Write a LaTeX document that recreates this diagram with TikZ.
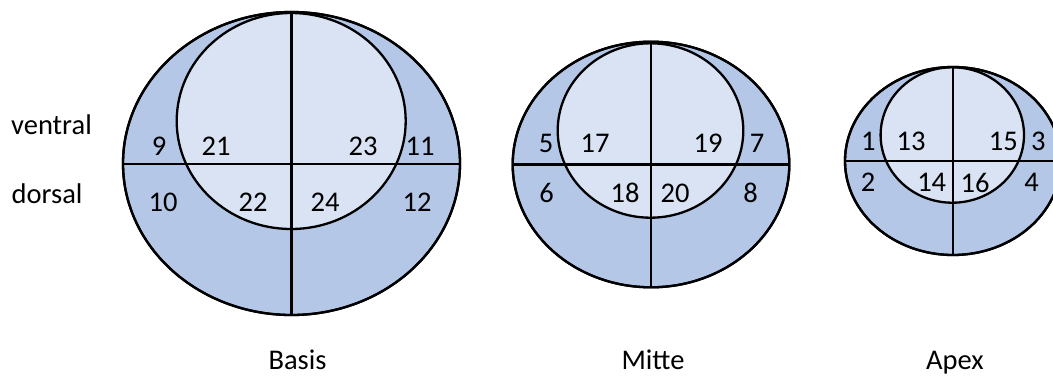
\documentclass[tikz,border=0pt]{standalone}
\usepackage{fontspec}
\setmainfont{Carlito}
\definecolor{outerblue}{HTML}{B4C7E7}
\definecolor{innerblue}{HTML}{DAE3F3}
\tikzset{
  outerring/.style={draw=black, line width=2.3pt, fill=outerblue},
  innerring/.style={draw=black, line width=2.3pt, fill=innerblue},
  divider/.style={draw=black, line width=2.3pt},
  rim/.style={draw=black, line width=2.3pt},
  num/.style={inner sep=0pt, anchor=center, font=\fontsize{28.5}{34}\selectfont},
  word/.style={inner sep=0pt, anchor=base, font=\fontsize{28.5}{34}\selectfont},
}
\begin{document}
\begin{tikzpicture}[x=1pt,y=-1pt]
\clip (0,0) rectangle (1053,376);
\fill[white] (0,0) rectangle (1053,376);

% ---------- Basis ----------
\path[outerring] (291.5,163.5) ellipse [x radius=168.5pt, y radius=151.5pt];
\path[innerring] (291.2,121) ellipse [x radius=114.5pt, y radius=108pt];
\coordinate (bW) at (123,164);
\coordinate (bE) at (460,164);
\coordinate (bN) at (291.6,12);
\coordinate (bS) at (291.6,315);
\draw[divider] (bW) -- (bE);
\draw[divider] (bN) -- (bS);
\path[rim] (291.5,163.5) ellipse [x radius=168.5pt, y radius=151.5pt];
\node[num] (n9)  at (159,146) {9};
\node[num] (n21) at (216,146) {21};
\node[num] (n23) at (363,146) {23};
\node[num] (n11) at (420,146) {11};
\node[num] (n10) at (163,202) {10};
\node[num] (n22) at (253,202) {22};
\node[num] (n24) at (325,202) {24};
\node[num] (n12) at (417,202) {12};

% ---------- Mitte ----------
\path[outerring] (651,164.5) ellipse [x radius=138.3pt, y radius=122.8pt];
\path[innerring] (650.5,130.5) ellipse [x radius=92.8pt, y radius=87.2pt];
\coordinate (mW) at (512.7,164.4);
\coordinate (mE) at (789.3,164.4);
\coordinate (mN) at (650.8,41.7);
\coordinate (mS) at (650.8,287.3);
\draw[divider] (mW) -- (mE);
\draw[divider] (mN) -- (mS);
\path[rim] (651,164.5) ellipse [x radius=138.3pt, y radius=122.8pt];
\node[num] (n5)  at (546,143.3) {5};
\node[num] (n17) at (595,143.3) {17};
\node[num] (n19) at (708,143.3) {19};
\node[num] (n7)  at (757,143.3) {7};
\node[num] (n6)  at (546.7,193.3) {6};
\node[num] (n18) at (625,193.3) {18};
\node[num] (n20) at (675,193.3) {20};
\node[num] (n8)  at (750.7,193.3) {8};

% ---------- Apex ----------
\path[outerring] (953,161) ellipse [x radius=108pt, y radius=94pt];
\path[innerring] (952.3,135) ellipse [x radius=71.7pt, y radius=67.7pt];
\coordinate (aW) at (845,161);
\coordinate (aE) at (1061,161);
\coordinate (aN) at (953.3,67);
\coordinate (aS) at (953.3,255);
\draw[divider] (aW) -- (aE);
\draw[divider] (aN) -- (aS);
\path[rim] (953,161) ellipse [x radius=108pt, y radius=94pt];
\node[num] (n1)  at (868.3,141.7) {1};
\node[num] (n13) at (911,141.7) {13};
\node[num] (n15) at (1003.3,141.7) {15};
\node[num] (n3)  at (1038.3,141.7) {3};
\node[num] (n2)  at (868,182.7) {2};
\node[num] (n14) at (931.7,182.7) {14};
\node[num] (n16) at (975,182.7) {16};
\node[num] (n4)  at (1031.7,182.7) {4};

% ---------- labels ----------
\node[word, anchor=base west] (ventral) at (11,134.3) {ventral};
\node[word, anchor=base west] (dorsal) at (11.5,203) {dorsal};
\node[word] (basis) at (297.5,369.5) {Basis};
\node[word] (mitte) at (653,369.5) {Mitte};
\node[word] (apex)  at (955,369.5) {Apex};
\end{tikzpicture}
\end{document}
